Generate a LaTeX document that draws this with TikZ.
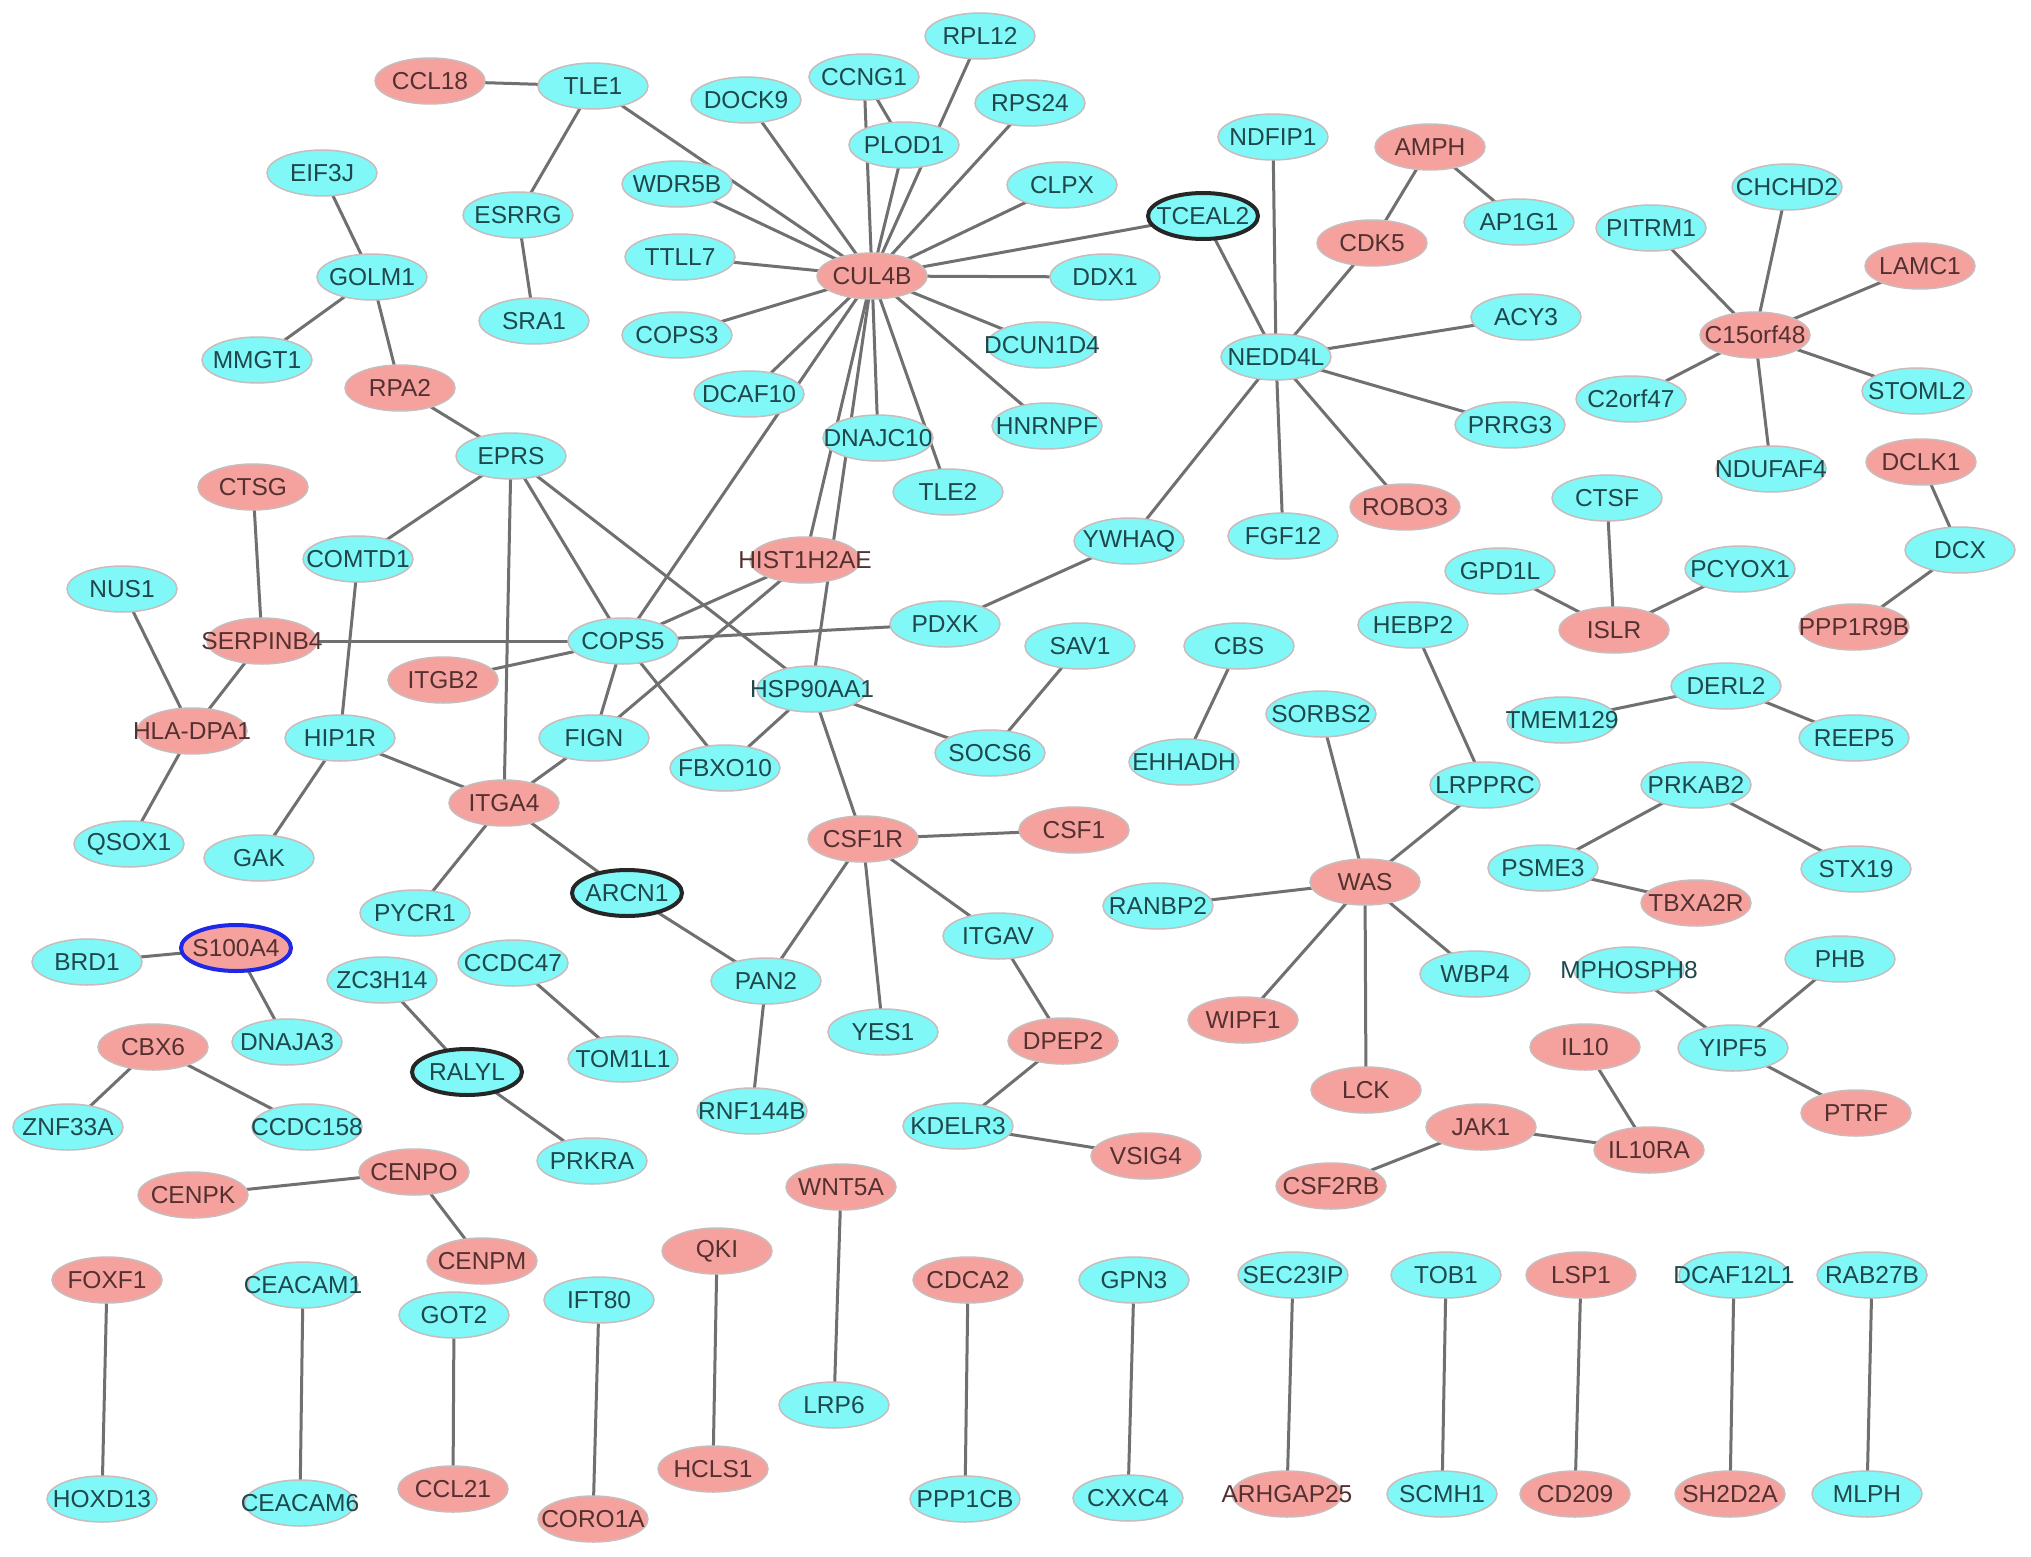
\documentclass[tikz,border=0pt]{standalone}
\usepackage{fontspec}
\setmainfont{Liberation Sans}
\usetikzlibrary{shapes.geometric,backgrounds}
\definecolor{cyfill}{RGB}{128,248,248}
\definecolor{pkfill}{RGB}{245,162,158}
\definecolor{cytext}{RGB}{30,72,76}
\definecolor{pktext}{RGB}{84,48,48}
\definecolor{nborder}{RGB}{200,188,188}
\definecolor{edgecol}{RGB}{112,112,112}
\definecolor{selblue}{RGB}{30,40,230}
\newcommand\gtxt[1]{\makebox[0pt][c]{#1}}
\tikzset{
  gene/.style={ellipse, inner sep=0pt, minimum width=110pt, minimum height=46pt,
    draw=nborder, line width=1.5pt, font=\fontsize{24.5}{28}\selectfont},
  cy/.style={gene, fill=cyfill, text=cytext},
  pk/.style={gene, fill=pkfill, text=pktext},
  thickb/.style={draw=black!85, line width=4pt},
  blueb/.style={draw=selblue, line width=4pt},
  edge/.style={draw=edgecol, line width=3pt}
}
\begin{document}
\begin{tikzpicture}[x=1pt,y=-1pt]
\useasboundingbox (0,0) rectangle (2031,1557);
% nodes
\node[pk] (ccl18) at (430,81) {\gtxt{CCL18}};
\node[cy] (tle1) at (593,86) {\gtxt{TLE1}};
\node[cy] (dock9) at (746,100) {\gtxt{DOCK9}};
\node[cy] (ccng1) at (864,77) {\gtxt{CCNG1}};
\node[cy] (rpl12) at (980,36) {\gtxt{RPL12}};
\node[cy] (plod1) at (904,145) {\gtxt{PLOD1}};
\node[cy] (rps24) at (1030,103) {\gtxt{RPS24}};
\node[cy] (wdr5b) at (677,184) {\gtxt{WDR5B}};
\node[cy] (esrrg) at (518,215) {\gtxt{ESRRG}};
\node[cy] (sra1) at (534,321) {\gtxt{SRA1}};
\node[cy] (eif3j) at (322,173) {\gtxt{EIF3J}};
\node[cy] (golm1) at (372,277) {\gtxt{GOLM1}};
\node[cy] (mmgt1) at (257,360) {\gtxt{MMGT1}};
\node[pk] (rpa2) at (400,388) {\gtxt{RPA2}};
\node[cy] (ttll7) at (680,257) {\gtxt{TTLL7}};
\node[pk] (cul4b) at (872,276) {\gtxt{CUL4B}};
\node[cy] (cops3) at (677,335) {\gtxt{COPS3}};
\node[cy] (dcaf10) at (749,394) {\gtxt{DCAF10}};
\node[cy] (dnajc10) at (878,438) {\gtxt{DNAJC10}};
\node[cy] (tle2) at (948,492) {\gtxt{TLE2}};
\node[cy] (eprs) at (511,456) {\gtxt{EPRS}};
\node[cy] (clpx) at (1062,185) {\gtxt{CLPX}};
\node[cy,thickb] (tceal2) at (1203,216) {\gtxt{TCEAL2}};
\node[cy] (ddx1) at (1105,277) {\gtxt{DDX1}};
\node[cy] (dcun1d4) at (1042,345) {\gtxt{DCUN1D4}};
\node[cy] (hnrnpf) at (1047,426) {\gtxt{HNRNPF}};
\node[cy] (ndfip1) at (1273,137) {\gtxt{NDFIP1}};
\node[pk] (amph) at (1430,147) {\gtxt{AMPH}};
\node[pk] (cdk5) at (1372,243) {\gtxt{CDK5}};
\node[cy] (ap1g1) at (1519,222) {\gtxt{AP1G1}};
\node[cy] (nedd4l) at (1276,357) {\gtxt{NEDD4L}};
\node[cy] (acy3) at (1526,317) {\gtxt{ACY3}};
\node[cy] (prrg3) at (1510,425) {\gtxt{PRRG3}};
\node[pk] (robo3) at (1405,507) {\gtxt{ROBO3}};
\node[cy] (fgf12) at (1283,536) {\gtxt{FGF12}};
\node[cy] (ywhaq) at (1129,541) {\gtxt{YWHAQ}};
\node[cy] (chchd2) at (1787,187) {\gtxt{CHCHD2}};
\node[cy] (pitrm1) at (1651,228) {\gtxt{PITRM1}};
\node[pk] (lamc1) at (1920,266) {\gtxt{LAMC1}};
\node[pk] (c15) at (1755,335) {\gtxt{C15orf48}};
\node[cy] (c2orf47) at (1631,399) {\gtxt{C2orf47}};
\node[cy] (stoml2) at (1917,391) {\gtxt{STOML2}};
\node[cy] (ndufaf4) at (1771,469) {\gtxt{NDUFAF4}};
\node[pk] (dclk1) at (1921,462) {\gtxt{DCLK1}};
\node[cy] (ctsf) at (1607,498) {\gtxt{CTSF}};
\node[pk] (ctsg) at (253,487) {\gtxt{CTSG}};
\node[cy] (comtd1) at (358,559) {\gtxt{COMTD1}};
\node[cy] (nus1) at (122,589) {\gtxt{NUS1}};
\node[pk] (serpinb4) at (262,641) {\gtxt{SERPINB4}};
\node[pk] (itgb2) at (443,680) {\gtxt{ITGB2}};
\node[pk] (hladpa1) at (192,731) {\gtxt{HLA-DPA1}};
\node[cy] (hip1r) at (340,738) {\gtxt{HIP1R}};
\node[pk] (itga4) at (504,803) {\gtxt{ITGA4}};
\node[cy] (qsox1) at (129,844) {\gtxt{QSOX1}};
\node[cy] (gak) at (259,858) {\gtxt{GAK}};
\node[cy] (pycr1) at (415,913) {\gtxt{PYCR1}};
\node[pk,blueb] (s100a4) at (236,948) {\gtxt{S100A4}};
\node[cy] (brd1) at (87,962) {\gtxt{BRD1}};
\node[cy] (zc3h14) at (382,980) {\gtxt{ZC3H14}};
\node[cy] (ccdc47) at (513,963) {\gtxt{CCDC47}};
\node[cy] (dnaja3) at (287,1042) {\gtxt{DNAJA3}};
\node[pk] (hist) at (805,560) {\gtxt{HIST1H2AE}};
\node[cy] (cops5) at (623,641) {\gtxt{COPS5}};
\node[cy] (pdxk) at (945,624) {\gtxt{PDXK}};
\node[cy] (hsp) at (812,689) {\gtxt{HSP90AA1}};
\node[cy] (fign) at (594,738) {\gtxt{FIGN}};
\node[cy] (fbxo10) at (725,768) {\gtxt{FBXO10}};
\node[cy] (socs6) at (990,753) {\gtxt{SOCS6}};
\node[pk] (csf1r) at (863,839) {\gtxt{CSF1R}};
\node[cy,thickb] (arcn1) at (627,893) {\gtxt{ARCN1}};
\node[cy] (pan2) at (766,981) {\gtxt{PAN2}};
\node[cy] (itgav) at (998,936) {\gtxt{ITGAV}};
\node[cy] (yes1) at (883,1032) {\gtxt{YES1}};
\node[cy] (sav1) at (1080,646) {\gtxt{SAV1}};
\node[cy] (cbs) at (1239,646) {\gtxt{CBS}};
\node[cy] (hebp2) at (1413,625) {\gtxt{HEBP2}};
\node[cy] (sorbs2) at (1321,714) {\gtxt{SORBS2}};
\node[cy] (ehhadh) at (1184,762) {\gtxt{EHHADH}};
\node[cy] (lrpprc) at (1485,785) {\gtxt{LRPPRC}};
\node[pk] (csf1) at (1074,830) {\gtxt{CSF1}};
\node[pk] (was) at (1365,882) {\gtxt{WAS}};
\node[cy] (ranbp2) at (1158,906) {\gtxt{RANBP2}};
\node[cy] (wbp4) at (1475,974) {\gtxt{WBP4}};
\node[pk] (wipf1) at (1243,1020) {\gtxt{WIPF1}};
\node[pk] (dpep2) at (1063,1041) {\gtxt{DPEP2}};
\node[cy] (gpd1l) at (1500,571) {\gtxt{GPD1L}};
\node[pk] (islr) at (1614,630) {\gtxt{ISLR}};
\node[cy] (pcyox1) at (1740,569) {\gtxt{PCYOX1}};
\node[cy] (dcx) at (1960,550) {\gtxt{DCX}};
\node[pk] (ppp1r9b) at (1854,627) {\gtxt{PPP1R9B}};
\node[cy] (derl2) at (1726,686) {\gtxt{DERL2}};
\node[cy] (tmem129) at (1562,720) {\gtxt{TMEM129}};
\node[cy] (reep5) at (1854,738) {\gtxt{REEP5}};
\node[cy] (prkab2) at (1696,785) {\gtxt{PRKAB2}};
\node[cy] (psme3) at (1543,868) {\gtxt{PSME3}};
\node[cy] (stx19) at (1856,869) {\gtxt{STX19}};
\node[pk] (tbxa2r) at (1696,903) {\gtxt{TBXA2R}};
\node[cy] (phb) at (1840,959) {\gtxt{PHB}};
\node[cy] (mphosph8) at (1629,970) {\gtxt{MPHOSPH8}};
\node[cy] (yipf5) at (1733,1048) {\gtxt{YIPF5}};
\node[pk] (cbx6) at (153,1047) {\gtxt{CBX6}};
\node[cy] (znf33a) at (68,1127) {\gtxt{ZNF33A}};
\node[cy] (ccdc158) at (307,1127) {\gtxt{CCDC158}};
\node[cy,thickb] (ralyl) at (467,1072) {\gtxt{RALYL}};
\node[pk] (cenpo) at (414,1172) {\gtxt{CENPO}};
\node[pk] (cenpk) at (193,1195) {\gtxt{CENPK}};
\node[pk] (cenpm) at (482,1261) {\gtxt{CENPM}};
\node[pk] (foxf1) at (107,1280) {\gtxt{FOXF1}};
\node[cy] (ceacam1) at (303,1285) {\gtxt{CEACAM1}};
\node[cy] (got2) at (454,1315) {\gtxt{GOT2}};
\node[cy] (hoxd13) at (102,1499) {\gtxt{HOXD13}};
\node[cy] (ceacam6) at (300,1503) {\gtxt{CEACAM6}};
\node[pk] (ccl21) at (453,1489) {\gtxt{CCL21}};
\node[cy] (tom1l1) at (623,1059) {\gtxt{TOM1L1}};
\node[cy] (rnf144b) at (752,1111) {\gtxt{RNF144B}};
\node[cy] (kdelr3) at (958,1126) {\gtxt{KDELR3}};
\node[cy] (prkra) at (592,1161) {\gtxt{PRKRA}};
\node[pk] (wnt5a) at (841,1187) {\gtxt{WNT5A}};
\node[pk] (qki) at (717,1251) {\gtxt{QKI}};
\node[pk] (cdca2) at (968,1280) {\gtxt{CDCA2}};
\node[cy] (ift80) at (599,1300) {\gtxt{IFT80}};
\node[cy] (lrp6) at (834,1405) {\gtxt{LRP6}};
\node[pk] (hcls1) at (713,1469) {\gtxt{HCLS1}};
\node[pk] (coro1a) at (593,1519) {\gtxt{CORO1A}};
\node[cy] (ppp1cb) at (965,1499) {\gtxt{PPP1CB}};
\node[pk] (lck) at (1366,1090) {\gtxt{LCK}};
\node[pk] (jak1) at (1481,1127) {\gtxt{JAK1}};
\node[pk] (vsig4) at (1146,1156) {\gtxt{VSIG4}};
\node[pk] (csf2rb) at (1331,1186) {\gtxt{CSF2RB}};
\node[cy] (gpn3) at (1134,1280) {\gtxt{GPN3}};
\node[cy] (sec23ip) at (1293,1275) {\gtxt{SEC23IP}};
\node[cy] (tob1) at (1446,1275) {\gtxt{TOB1}};
\node[cy] (cxxc4) at (1128,1498) {\gtxt{CXXC4}};
\node[pk] (arhgap25) at (1287,1494) {\gtxt{ARHGAP25}};
\node[cy] (scmh1) at (1442,1494) {\gtxt{SCMH1}};
\node[pk] (il10) at (1585,1047) {\gtxt{IL10}};
\node[pk] (ptrf) at (1856,1113) {\gtxt{PTRF}};
\node[pk] (il10ra) at (1649,1150) {\gtxt{IL10RA}};
\node[pk] (lsp1) at (1581,1275) {\gtxt{LSP1}};
\node[cy] (dcaf12l1) at (1734,1275) {\gtxt{DCAF12L1}};
\node[cy] (rab27b) at (1872,1275) {\gtxt{RAB27B}};
\node[pk] (cd209) at (1575,1494) {\gtxt{CD209}};
\node[pk] (sh2d2a) at (1730,1494) {\gtxt{SH2D2A}};
\node[cy] (mlph) at (1867,1494) {\gtxt{MLPH}};
% edges
\begin{pgfonlayer}{background}
\fill[white] (0,0) rectangle (2031,1557);
\foreach \a/\b in {ccl18/tle1, tle1/esrrg, tle1/cul4b, esrrg/sra1, eif3j/golm1,
  golm1/mmgt1, golm1/rpa2, rpa2/eprs,
  cul4b/dock9, cul4b/ccng1, ccng1/plod1, cul4b/plod1, cul4b/rpl12, cul4b/rps24,
  cul4b/clpx, cul4b/tceal2, cul4b/ddx1, cul4b/dcun1d4, cul4b/hnrnpf, cul4b/tle2,
  cul4b/dnajc10, cul4b/dcaf10, cul4b/cops3, cul4b/ttll7, cul4b/wdr5b,
  cul4b/cops5, cul4b/hist, cul4b/hsp,
  eprs/comtd1, eprs/itga4, eprs/cops5, eprs/hsp, comtd1/hip1r,
  ctsg/serpinb4, nus1/hladpa1, serpinb4/hladpa1, serpinb4/cops5, hladpa1/qsox1,
  hip1r/gak, hip1r/itga4, itgb2/cops5, itga4/fign, itga4/pycr1, itga4/arcn1,
  fign/cops5, fign/hist, cops5/hist, cops5/pdxk, cops5/fbxo10,
  hsp/fbxo10, hsp/socs6, hsp/csf1r, pdxk/ywhaq, ywhaq/nedd4l, sav1/socs6,
  csf1r/csf1, csf1r/pan2, csf1r/yes1, csf1r/itgav, arcn1/pan2, pan2/rnf144b,
  itgav/dpep2, dpep2/kdelr3, kdelr3/vsig4, ccdc47/tom1l1, zc3h14/ralyl,
  ralyl/prkra, s100a4/brd1, s100a4/dnaja3, cbx6/znf33a, cbx6/ccdc158,
  cenpk/cenpo, cenpo/cenpm, foxf1/hoxd13, ceacam1/ceacam6, got2/ccl21,
  ift80/coro1a, qki/hcls1, wnt5a/lrp6, cdca2/ppp1cb, gpn3/cxxc4,
  sec23ip/arhgap25, tob1/scmh1, lsp1/cd209, dcaf12l1/sh2d2a, rab27b/mlph,
  nedd4l/tceal2, nedd4l/ndfip1, nedd4l/cdk5, nedd4l/acy3, nedd4l/prrg3,
  nedd4l/robo3, nedd4l/fgf12, amph/cdk5, amph/ap1g1,
  c15/pitrm1, c15/chchd2, c15/lamc1, c15/stoml2, c15/ndufaf4, c15/c2orf47,
  dclk1/dcx, dcx/ppp1r9b, ctsf/islr, gpd1l/islr, pcyox1/islr, cbs/ehhadh,
  hebp2/lrpprc, lrpprc/was, was/sorbs2, was/ranbp2, was/wipf1, was/lck, was/wbp4,
  derl2/tmem129, derl2/reep5, prkab2/psme3, prkab2/stx19, psme3/tbxa2r,
  mphosph8/yipf5, phb/yipf5, yipf5/ptrf, il10/il10ra, jak1/il10ra, jak1/csf2rb}
  \draw[edge] (\a.center) -- (\b.center);
\end{pgfonlayer}
\end{tikzpicture}
\end{document}
